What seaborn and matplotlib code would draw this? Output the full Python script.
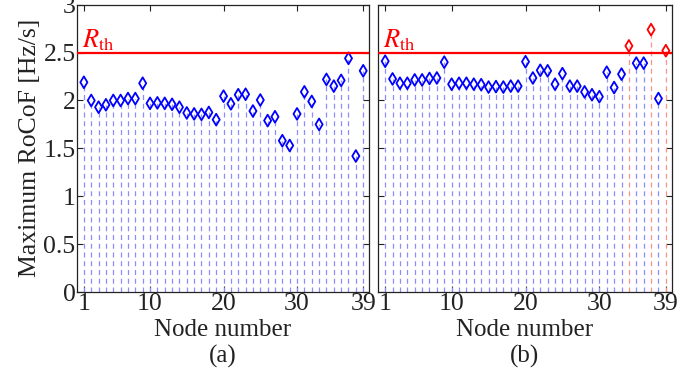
import matplotlib
matplotlib.use("Agg")
import matplotlib.pyplot as plt
import seaborn as sns
import numpy as np
import pandas as pd

nodes = list(range(1, 40))
rocof_a = [2.19, 2.00, 1.93, 1.955, 2.00, 2.00, 2.02, 2.02, 2.18, 1.97,
           1.975, 1.97, 1.96, 1.93, 1.87, 1.86, 1.855, 1.875, 1.80, 2.045,
           1.965, 2.06, 2.065, 1.89, 2.005, 1.79, 1.83, 1.58, 1.53, 1.86,
           2.09, 1.99, 1.75, 2.22, 2.15, 2.21, 2.44, 1.42, 2.31]
rocof_b = [2.41, 2.225, 2.18, 2.18, 2.215, 2.215, 2.23, 2.235, 2.40, 2.17,
           2.18, 2.18, 2.17, 2.165, 2.14, 2.145, 2.14, 2.15, 2.15, 2.405,
           2.235, 2.315, 2.31, 2.17, 2.28, 2.15, 2.15, 2.09, 2.06, 2.04,
           2.295, 2.135, 2.275, 2.57, 2.39, 2.39, 2.74, 2.02, 2.52]
r_th = 2.5
xticks = [1, 10, 20, 30, 39]
yticks = [0, 0.5, 1, 1.5, 2, 2.5, 3]
ytick_labels = ["0", "0.5", "1", "1.5", "2", "2.5", "3"]
panel_labels = ["(a)", "(b)"]

sns.set_theme(style="ticks")
plt.rcParams['font.family'] = ['Liberation Serif', 'DejaVu Serif']
plt.rcParams['mathtext.fontset'] = 'stix'

txt = "#222222"
fig = plt.figure(figsize=(6.99, 3.78), dpi=100)
ax_a = fig.add_axes([0.110, 0.2275, 0.418, 0.76])
ax_b = fig.add_axes([0.541, 0.2275, 0.420, 0.76])

for ax, vals, lab in [(ax_a, rocof_a, panel_labels[0]), (ax_b, rocof_b, panel_labels[1])]:
    df = pd.DataFrame({"node": nodes, "val": vals})
    df["over"] = df["val"] > r_th
    stem_cols = ["#ff9090" if o else "#8c8cff" for o in df["over"]]
    ax.vlines(df["node"], 0, df["val"], colors=stem_cols, linestyles=(0, (4, 3)), linewidth=0.9)
    for over, col in [(False, "#0000ff"), (True, "#ff0000")]:
        sub = df[df["over"] == over]
        if len(sub):
            sns.scatterplot(data=sub, x="node", y="val", ax=ax, marker="d", s=36,
                            facecolors="none", edgecolor=col, linewidth=1.3, zorder=3)
    ax.axhline(r_th, color="#ff0000", linewidth=1.6, zorder=4)
    ax.text(0.75, 2.555, r"$R_{\mathrm{th}}$", color="#ff0000", fontsize=19)
    ax.set_xlim(0.05, 39.8)
    ax.set_ylim(0, 3)
    ax.set_xticks(xticks)
    ax.set_yticks(yticks)
    ax.tick_params(direction="in", top=True, right=True, length=4, width=0.8,
                   labelsize=18.5, colors=txt, pad=1)
    for s in ax.spines.values():
        s.set_linewidth(0.9)
        s.set_color(txt)
    ax.set_xlabel("")
    ax.set_ylabel("")
    cx = (ax.get_position().x0 + ax.get_position().x1) / 2
    fig.text(cx, 0.127, "Node number", ha="center", va="center", fontsize=18, color=txt)
    fig.text(cx, 0.058, lab, ha="center", va="center", fontsize=18, color=txt)

ax_a.set_yticklabels(ytick_labels)
ax_a.set_ylabel("Maximum RoCoF [Hz/s]", fontsize=18.5, labelpad=2, color=txt)
ax_b.set_yticklabels([])

fig.savefig("out.png", dpi=100)
